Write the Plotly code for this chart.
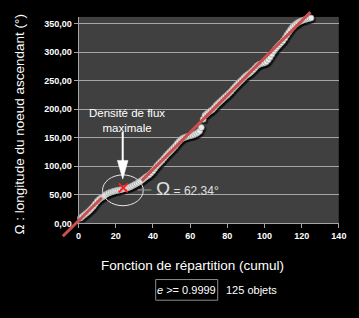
import plotly.graph_objects as go

W, H = 359, 318

# ---------------- data ----------------
cumul = list(range(1, 126))
omega = [9.5, 12.0, 14.8, 17.5, 20.1, 23.0, 26.4, 30.2, 34.5, 38.8,
         42.0, 44.6, 46.5, 49.0, 51.2, 53.0, 54.2, 55.3, 56.4, 57.2,
         57.9, 58.5, 59.3, 60.4, 61.2, 62.0, 63.1, 64.3, 66.0, 67.8,
         69.5, 71.4, 73.5, 75.6, 78.4, 80.9, 83.1, 85.4, 88.5, 92.0,
         96.3, 100.4, 104.2, 107.5, 110.8, 114.6, 118.4, 122.0, 125.3, 128.6,
         132.0, 135.6, 139.8, 143.5, 146.8, 149.2, 150.6, 151.8, 152.7, 153.5,
         154.3, 155.4, 157.0, 158.8, 161.5, 168.0, 182.5, 189.4, 192.3, 195.0,
         197.2, 199.5, 203.0, 206.8, 210.2, 213.0, 216.0, 219.2, 222.1, 225.0,
         228.3, 231.6, 235.4, 239.0, 242.5, 245.8, 249.0, 252.1, 255.4, 258.6,
         261.0, 263.2, 266.0, 269.1, 272.8, 276.0, 278.2, 279.5, 280.4, 281.3,
         283.0, 286.5, 291.2, 296.4, 301.5, 305.8, 309.6, 313.0, 316.4, 320.0,
         324.6, 330.0, 334.8, 339.5, 343.8, 347.0, 349.6, 351.8, 353.6, 355.0,
         356.2, 357.3, 358.2, 359.0, 359.7]

trend_x = [-8.5, 12.5, None, 34.0, 124.7]
trend_y = [-22.5, 45.0, None, 75.0, 370.0]

peak_x = [24.0]
peak_y = [62.34]

x_ticks = [0, 20, 40, 60, 80, 100, 120, 140]
y_ticks = [0, 50, 100, 150, 200, 250, 300, 350]
y_ticklabels = ["0,00", "50,00", "100,00", "150,00", "200,00", "250,00", "300,00", "350,00"]

x_title = "Fonction de répartition (cumul)"
y_title = "Ω : longitude du noeud ascendant (°)"
peak_label = "Densité de flux<br>maximale"
omega_label = "= 62.34°"
filter_label = "<i>e</i> >= 0.9999"
count_label = "125 objets"

# ---------------- geometry (pixels) ----------------
PL, PR, PT, PB = 78, 346.5, 17, 227
XMAX, YMAX = 140, 362
sx = (PR - PL) / XMAX
sy = (PB - PT) / YMAX

def px(x):
    return x / W

def py(y):
    return 1 - y / H

# extended overlay area for the trend line (drawn past the plot area)
EL, ET, EB = 55, 4, 252
x2_range = [-(PL - EL) / sx, XMAX]
y2_range = [-(EB - PB) / sy, YMAX + (PT - ET) / sy]

FONT = "Liberation Sans, Arial, sans-serif"
GRID = "#a6a6a6"

fig = go.Figure()

# shadow of the points
fig.add_trace(go.Scatter(
    x=[v + 0.9 for v in cumul], y=[v - 3.2 for v in omega],
    mode="markers", cliponaxis=False, hoverinfo="skip",
    marker=dict(size=7, color="rgba(0,0,0,0.5)", line=dict(width=0)),
    xaxis="x", yaxis="y"))
# points
fig.add_trace(go.Scatter(
    x=cumul, y=omega, mode="markers", cliponaxis=False,
    marker=dict(size=6, color="#ececec", line=dict(width=0.7, color="#9a9a9a")),
    xaxis="x", yaxis="y"))
# maximal density marker
fig.add_trace(go.Scatter(
    x=peak_x, y=peak_y, mode="markers", cliponaxis=False,
    marker=dict(symbol="x-thin", size=9, line=dict(width=2, color="#ff1a1a")),
    xaxis="x", yaxis="y"))
# trend line on an overlay with a wider area
fig.add_trace(go.Scatter(
    x=trend_x, y=trend_y, mode="lines",
    line=dict(color="#c9504f", width=3),
    xaxis="x2", yaxis="y2"))

axis_common = dict(showline=True, linecolor=GRID, linewidth=1,
                   ticks="outside", ticklen=4, tickcolor=GRID,
                   tickfont=dict(family=FONT, size=9, color="#ffffff", weight="bold"),
                   zeroline=False)

fig.update_layout(
    width=W, height=H,
    margin=dict(l=0, r=0, t=0, b=0),
    paper_bgcolor="#000000",
    plot_bgcolor="rgba(0,0,0,0)",
    showlegend=False,
    xaxis=dict(domain=[px(PL), px(PR)], range=[0, XMAX], tickvals=x_ticks,
               showgrid=False, anchor="y", **axis_common),
    yaxis=dict(domain=[py(PB), py(PT)], range=[0, YMAX], tickvals=y_ticks,
               ticktext=y_ticklabels, showgrid=True, gridcolor=GRID, gridwidth=1,
               anchor="x", **axis_common),
    xaxis2=dict(domain=[px(EL), px(PR)], range=x2_range, visible=False, anchor="y2"),
    yaxis2=dict(domain=[py(EB), py(ET)], range=y2_range, visible=False, anchor="x2"),
)

shapes = [
    # plot area background
    dict(type="rect", xref="x", yref="y", x0=0, x1=XMAX, y0=0, y1=YMAX,
         fillcolor="#404040", line=dict(width=0), layer="below"),
    # ellipse around the dense zone
    dict(type="circle", xref="paper", yref="paper",
         x0=px(102.7), x1=px(144.7), y0=py(209), y1=py(177.7),
         line=dict(color="#e6e6e6", width=1)),
    # connector to the omega label
    dict(type="line", xref="paper", yref="paper",
         x0=px(139), x1=px(153), y0=py(193), y1=py(193),
         line=dict(color="#9a9a9a", width=1)),
    # arrow shaft
    dict(type="line", xref="paper", yref="paper",
         x0=px(123.5), x1=px(123.5), y0=py(134), y1=py(165),
         line=dict(color="#ffffff", width=2)),
    # arrow head
    dict(type="path", xref="paper", yref="paper",
         path=f"M {px(118)} {py(163)} L {px(129)} {py(163)} L {px(123.5)} {py(182)} Z",
         fillcolor="#ffffff", line=dict(color="#ffffff", width=0.5)),
    # filter box
    dict(type="rect", xref="paper", yref="paper",
         x0=px(157.5), x1=px(221.5), y0=py(305), y1=py(284),
         line=dict(color="#8c8c8c", width=1)),
]
fig.update_layout(shapes=shapes)

ann = [
    dict(text=y_title, x=px(17), y=py(126), textangle=-90,
         font=dict(family=FONT, size=13.5, color="#ffffff")),
    dict(text=x_title, x=px(196), y=py(270),
         font=dict(family=FONT, size=13.5, color="#ffffff")),
    dict(text=peak_label, x=px(128), y=py(122),
         font=dict(family=FONT, size=11.5, color="#ffffff")),
    dict(text="<span style='font-size:19px'>Ω</span> " + omega_label,
         x=px(156), y=py(192), xanchor="left",
         font=dict(family=FONT, size=12, color="#e0e0e0")),
    dict(text=filter_label, x=px(189.5), y=py(294.5),
         font=dict(family=FONT, size=11, color="#ffffff")),
    dict(text=count_label, x=px(228.5), y=py(294.5), xanchor="left",
         font=dict(family=FONT, size=11, color="#ffffff")),
]
for a in ann:
    a.setdefault("xanchor", "center")
    a.update(xref="paper", yref="paper", yanchor="middle", showarrow=False)
fig.update_layout(annotations=ann)

fig.write_html("out.html")
